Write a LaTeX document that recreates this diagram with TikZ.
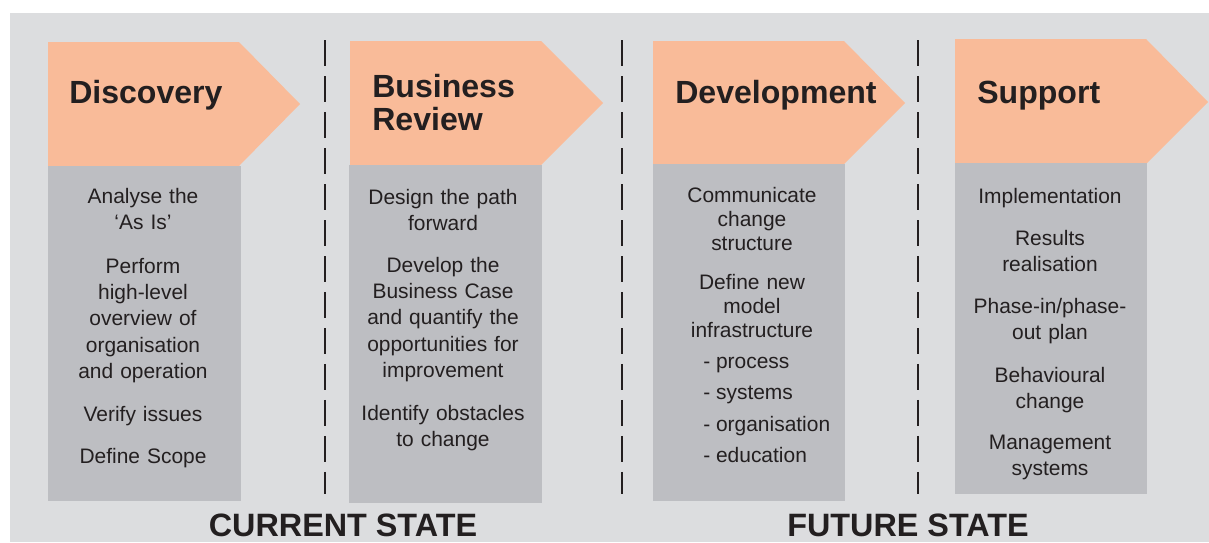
\documentclass[tikz,border=0pt]{standalone}
\usepackage{fontspec}
\setmainfont{Liberation Sans}
\usepackage{tikz}

\definecolor{ink}{HTML}{231F20}
\definecolor{peach}{HTML}{F9BB99}
\definecolor{panel}{HTML}{BDBEC2}
\definecolor{backdrop}{HTML}{DCDDDF}

\begin{document}
\begin{tikzpicture}[x=0.025cm,y=-0.025cm,
    every node/.style={inner sep=0pt,text=ink},
    phase/.style={fill=peach},
    panelbox/.style={fill=panel},
    title/.style={font=\fontsize{22.8}{23.5}\selectfont\bfseries,anchor=base west,text width=6cm,align=left},
    item/.style={font=\fontsize{14.9}{18.8}\selectfont,anchor=base,text width=5cm,align=center},
    tight/.style={font=\fontsize{14.9}{17.1}\selectfont},
    sub/.style={font=\fontsize{14.9}{17.1}\selectfont,anchor=base west},
    divider/.style={line width=2.1pt,dash pattern=on 18.5pt off 7.1pt,ink},
    state/.style={font=\fontsize{23}{26}\selectfont\bfseries,anchor=base}]
      \useasboundingbox (0,0) rectangle (1209,542);
      \fill[backdrop] (10,13) rectangle (1209,542);

      % Discovery
      \fill[phase] (48,42) -- (239,42) -- (300,104) -- (239,166) -- (48,166) -- cycle;
      \fill[panelbox] (48,166) rectangle (241,501);
      \node[title] (discovery) at (69,103) {Discovery};
      \node[item] (asis) at (143,203) {Analyse the\\‘As Is’};
      \node[item] (overview) at (143,273) {Perform\\high-level\\overview of\\organisation\\and operation};
      \node[item] (issues) at (143,421) {Verify issues};
      \node[item] (scope) at (143,463) {Define Scope};

      % Business Review
      \fill[phase] (350,41) -- (541,41) -- (603,103) -- (541,165) -- (350,165) -- cycle;
      \fill[panelbox] (349,165) rectangle (542,503);
      \node[title] (review) at (372,97) {Business\\Review};
      \node[item] (path) at (443,204) {Design the path\\forward};
      \node[item] (case) at (443,272) {Develop the\\Business Case\\and quantify the\\opportunities for\\improvement};
      \node[item] (obstacles) at (443,420) {Identify obstacles\\to change};

      % Development
      \fill[phase] (653,41) -- (844,41) -- (905,103) -- (844,164) -- (653,164) -- cycle;
      \fill[panelbox] (653,164) rectangle (845,501);
      \node[title] (development) at (675,103) {Development};
      \node[item,tight] (communicate) at (752,202) {Communicate\\change\\structure};
      \node[item,tight] (model) at (752,289) {Define new\\model\\infrastructure};
      \node[sub] (process) at (703,368) {- process};
      \node[sub] (systems) at (703,399) {- systems};
      \node[sub] (organisation) at (703,431) {- organisation};
      \node[sub] (education) at (703,462) {- education};

      % Support
      \fill[phase] (955,39) -- (1146,39) -- (1208,102) -- (1146,164) -- (955,164) -- cycle;
      \fill[panelbox] (955,163) rectangle (1147,494);
      \node[title] (support) at (977,103) {Support};
      \node[item] (implementation) at (1050,203) {Implementation};
      \node[item] (results) at (1050,245) {Results\\realisation};
      \node[item] (phasein) at (1050,313) {Phase-in/phase-\\out plan};
      \node[item] (behaviour) at (1050,382) {Behavioural\\change};
      \node[item] (management) at (1050,449) {Management\\systems};

      % dividers
      \foreach \x in {325,622,918}
        \draw[divider] (\x,40) -- (\x,494);

      % states
      \node[state] (current) at (343,536) {CURRENT STATE};
      \node[state] (future) at (908,536) {FUTURE STATE};
    \end{tikzpicture}
\end{document}
